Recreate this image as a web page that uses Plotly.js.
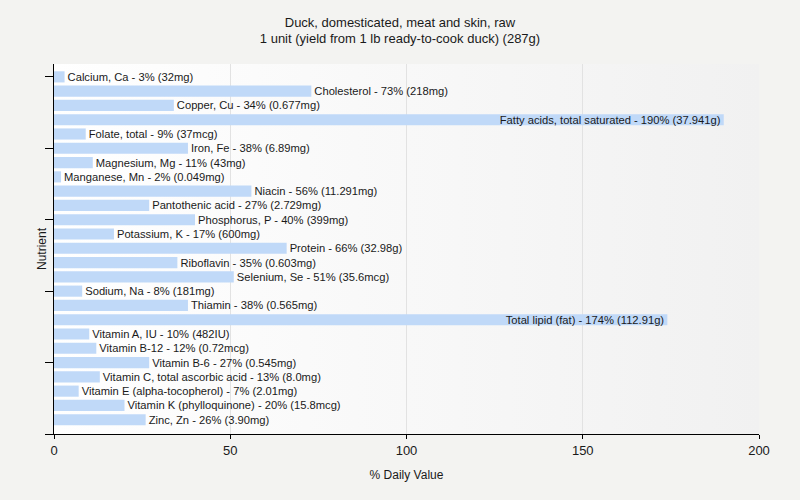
<!DOCTYPE html>
<html>
<head>
<meta charset="utf-8">
<script src="https://cdn.plot.ly/plotly-3.0.1.min.js"></script>
<style>html,body{margin:0;padding:0;background:#f3f3f1;}#chart{width:800px;height:500px;}</style>
</head>
<body>
<div id="chart"></div>
<script>
var nutrients = ["Calcium, Ca","Cholesterol","Copper, Cu","Fatty acids, total saturated","Folate, total","Iron, Fe","Magnesium, Mg","Manganese, Mn","Niacin","Pantothenic acid","Phosphorus, P","Potassium, K","Protein","Riboflavin","Selenium, Se","Sodium, Na","Thiamin","Total lipid (fat)","Vitamin A, IU","Vitamin B-12","Vitamin B-6","Vitamin C, total ascorbic acid","Vitamin E (alpha-tocopherol)","Vitamin K (phylloquinone)","Zinc, Zn"];
var percents = [3,73,34,190,9,38,11,2,56,27,40,17,66,35,51,8,38,174,10,12,27,13,7,20,26];
var amounts = ["32mg","218mg","0.677mg","37.941g","37mcg","6.89mg","43mg","0.049mg","11.291mg","2.729mg","399mg","600mg","32.98g","0.603mg","35.6mcg","181mg","0.565mg","112.91g","482IU","0.72mcg","0.545mg","8.0mg","2.01mg","15.8mcg","3.90mg"];
var xTicks = [0,50,100,150,200];

var idx = nutrients.map(function(_, i){ return i; });
var labels = nutrients.map(function(n, i){ return n + " - " + percents[i] + "% (" + amounts[i] + ")"; });
var positions = percents.map(function(v){ return v > 150 ? "inside" : "outside"; });

var grad = 'data:image/svg+xml;utf8,' + encodeURIComponent(
  '<svg xmlns="http://www.w3.org/2000/svg" width="100" height="100" preserveAspectRatio="none">' +
  '<defs><linearGradient id="g" x1="0" y1="0" x2="1" y2="0">' +
  '<stop offset="0" stop-color="#ffffff"/><stop offset="1" stop-color="#f1f1f1"/></linearGradient></defs>' +
  '<rect width="100" height="100" fill="url(#g)"/></svg>');

var FONT = "Liberation Sans, Arial, sans-serif";

var trace = {
  type: "bar",
  orientation: "h",
  x: percents,
  y: idx,
  text: labels,
  textposition: positions,
  insidetextanchor: "end",
  constraintext: "none",
  cliponaxis: false,
  textfont: {family: FONT, size: 11.2, color: "#1a1a1a"},
  marker: {color: "#c0d9f8", line: {width: 0}},
  width: 0.78,
  hoverinfo: "none"
};

var layout = {
  width: 800, height: 500,
  paper_bgcolor: "#f3f3f1",
  plot_bgcolor: "rgba(0,0,0,0)",
  margin: {l: 54, r: 41, t: 64, b: 66},
  font: {family: FONT, size: 12, color: "#1a1a1a"},
  title: {text: "Duck, domesticated, meat and skin, raw<br>1 unit (yield from 1 lb ready-to-cook duck) (287g)", x: 0.5, xanchor: "center", y: 0.947, yanchor: "top", font: {size: 13}},
  showlegend: false,
  images: [{source: grad, xref: "paper", yref: "paper", x: 0, y: 1, sizex: 1, sizey: 1, sizing: "stretch", xanchor: "left", yanchor: "top", layer: "below"}],
  xaxis: {
    range: [0, 200], tickvals: xTicks, ticktext: xTicks.map(String),
    showgrid: true, gridcolor: "#e2e2e2", zeroline: false,
    showline: true, linecolor: "#000", linewidth: 1,
    ticks: "outside", ticklen: 4, tickcolor: "#000",
    title: {text: "% Daily Value", standoff: 14, font: {size: 12}},
    tickfont: {size: 13}, fixedrange: true
  },
  yaxis: {
    range: [25, -0.9], tickvals: [0,5,10,15,20,25], ticktext: ["","","","","",""],
    showgrid: false, zeroline: false,
    showline: true, linecolor: "#000", linewidth: 1,
    ticks: "outside", ticklen: 8, tickcolor: "#000",
    fixedrange: true
  },
  annotations: [{text: "Nutrient", xref: "paper", yref: "paper", x: 0, y: 0.5, xanchor: "center", yanchor: "middle", xshift: -12, textangle: -90, showarrow: false, font: {size: 12}}],
  bargap: 0.22
};

Plotly.newPlot("chart", [trace], layout, {displayModeBar: false, staticPlot: true});
</script>
</body>
</html>
